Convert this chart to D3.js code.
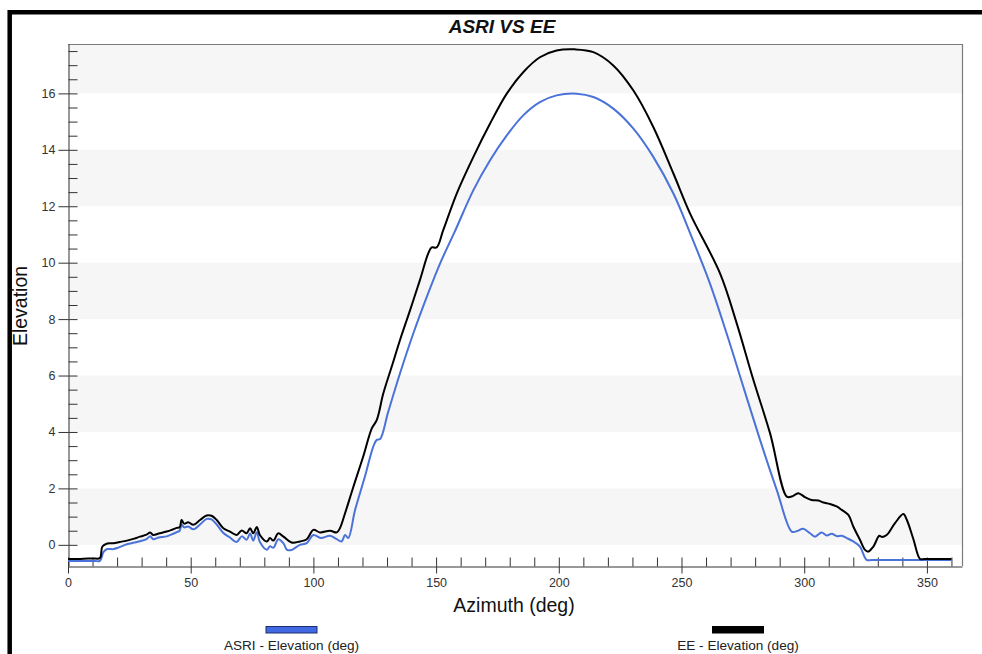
<!DOCTYPE html>
<html>
<head>
<meta charset="utf-8">
<script src="https://cdn.jsdelivr.net/npm/d3@7"></script>
<style>
  html, body { margin: 0; padding: 0; background: #fff; }
  svg { display: block; font-family: "Liberation Sans", Arial, sans-serif; }
</style>
</head>
<body>
<svg id="chart" width="982" height="654"></svg>
<script>
// ---------- DATA ----------
const title = "ASRI VS EE";
const xLabel = "Azimuth (deg)";
const yLabel = "Elevation";
const seriesNames = ["ASRI - Elevation (deg)", "EE - Elevation (deg)"];
const xMajorTicks = [0, 50, 100, 150, 200, 250, 300, 350];
const yMajorTicks = [0, 2, 4, 6, 8, 10, 12, 14, 16];
const xDomain = [0, 364.3];
const yDomain = [-0.75, 17.75];

const asriAzimuth = [0, 4, 8, 11, 13, 14.5, 16, 18.5, 21, 24, 27, 29.3, 32, 33.5, 34.7, 37, 40.2, 42, 44.3, 45.5, 46.3, 47.3, 49, 51.1, 53.8, 56.5, 58.5, 60.6, 63.3, 66, 68.7, 70.8, 72.8, 74.2, 75.5, 76.9, 78.2, 81, 82.3, 83.7, 85.7, 87.8, 89.3, 91.1, 94.5, 97.3, 100, 103, 106.8, 109.5, 111.5, 112.9, 114.2, 117, 121, 124.4, 125.8, 127.2, 130.5, 135.3, 140.7, 146.2, 151.6, 157.5, 165.2, 172, 178.8, 185.5, 192.3, 199.1, 207.3, 214.1, 222.2, 230.4, 238.5, 246.7, 253.5, 261.6, 268.4, 275.2, 282, 288.8, 294.9, 296.9, 299.6, 302.4, 304.4, 307.1, 309.2, 311.2, 313.2, 315.3, 317.3, 320, 322.7, 325.4, 327.5, 331, 335, 340, 345, 350, 355, 360];
const asriElevation = [-0.57, -0.57, -0.57, -0.57, -0.57, -0.25, -0.15, -0.15, -0.08, 0.02, 0.08, 0.13, 0.2, 0.3, 0.2, 0.26, 0.3, 0.36, 0.45, 0.5, 0.72, 0.62, 0.65, 0.55, 0.72, 0.92, 0.9, 0.72, 0.42, 0.26, 0.1, 0.3, 0.18, 0.4, 0.15, 0.45, 0.1, -0.17, -0.05, -0.1, 0.2, 0.05, -0.18, -0.18, 0.0, 0.06, 0.35, 0.24, 0.32, 0.2, 0.12, 0.35, 0.24, 1.24, 2.42, 3.48, 3.72, 3.75, 4.72, 6.08, 7.49, 8.79, 9.97, 11.08, 12.57, 13.63, 14.51, 15.22, 15.69, 15.93, 15.99, 15.87, 15.46, 14.75, 13.75, 12.45, 11.05, 9.26, 7.49, 5.6, 3.72, 1.95, 0.47, 0.48, 0.57, 0.41, 0.29, 0.44, 0.33, 0.39, 0.31, 0.32, 0.24, 0.12, -0.06, -0.53, -0.54, -0.54, -0.54, -0.54, -0.54, -0.54, -0.54, -0.54];

const eeAzimuth = [0, 5, 10, 13, 14, 16, 18.5, 21, 24, 27, 29.3, 32, 33.5, 34.7, 37, 40.2, 42, 44.3, 45.5, 46.3, 47.3, 49, 51.1, 53.8, 56.5, 58.5, 60.6, 63.3, 66, 68.7, 70.8, 72.8, 74.2, 75.5, 76.9, 78.2, 81, 82.3, 83.7, 85.7, 87.8, 91.1, 94.5, 97.3, 100, 102.7, 106.8, 109.5, 110.8, 112.9, 116.3, 120.3, 123.8, 125.8, 128.5, 131.9, 135.3, 139.4, 143.4, 146.8, 148.2, 150.2, 152.9, 158.4, 165.2, 172, 178.8, 185.5, 192.3, 199.1, 206.6, 214.1, 222.2, 230.4, 238.5, 246.7, 253.5, 265.7, 272.5, 279.3, 286.1, 292.9, 294.9, 297.6, 300.3, 303, 305.8, 307.8, 310.5, 313.2, 315.3, 318, 320, 322.7, 324.8, 326.1, 328.2, 330.6, 331.6, 333.6, 337, 340.4, 341.8, 344.5, 347.2, 349, 352, 356, 360];
const eeElevation = [-0.5, -0.5, -0.48, -0.47, -0.06, 0.05, 0.06, 0.1, 0.15, 0.22, 0.29, 0.36, 0.44, 0.35, 0.4, 0.47, 0.52, 0.6, 0.62, 0.88, 0.75, 0.8, 0.71, 0.88, 1.04, 1.03, 0.88, 0.59, 0.47, 0.35, 0.51, 0.41, 0.59, 0.41, 0.63, 0.35, 0.12, 0.24, 0.15, 0.41, 0.29, 0.08, 0.12, 0.2, 0.53, 0.44, 0.5, 0.44, 0.59, 1.12, 2.06, 3.13, 4.13, 4.42, 5.37, 6.31, 7.26, 8.32, 9.38, 10.33, 10.54, 10.54, 11.15, 12.45, 13.75, 14.93, 15.99, 16.75, 17.28, 17.52, 17.56, 17.46, 16.99, 16.1, 14.81, 13.16, 11.74, 9.62, 7.85, 5.84, 3.95, 1.71, 1.71, 1.83, 1.69, 1.59, 1.57, 1.5, 1.45, 1.36, 1.24, 1.06, 0.65, 0.18, -0.18, -0.24, -0.06, 0.32, 0.28, 0.35, 0.77, 1.09, 0.89, 0.2, -0.5, -0.5, -0.5, -0.5, -0.5];

// ---------- LAYOUT ----------
const svg = d3.select("#chart");
const plot = { left: 68, right: 962, top: 44, bottom: 566 };
const x = d3.scaleLinear().domain(xDomain).range([plot.left, plot.right]);
const y = d3.scaleLinear().domain(yDomain).range([plot.bottom, plot.top]);

svg.append("rect").attr("width", 982).attr("height", 654).attr("fill", "#fff");

// alternating bands
const bandStarts = [0, 4, 8, 12, 16];
svg.append("g").selectAll("rect").data(bandStarts).join("rect")
  .attr("x", plot.left)
  .attr("width", plot.right - plot.left)
  .attr("y", d => y(Math.min(d + 2, yDomain[1])))
  .attr("height", d => y(d) - y(Math.min(d + 2, yDomain[1])))
  .attr("fill", "#f6f6f6");

// frame top & right
svg.append("path")
  .attr("d", `M${plot.left},${plot.top + 0.5}H${plot.right + 0.5}V${plot.bottom}`)
  .attr("fill", "none").attr("stroke", "#7a7a7a").attr("stroke-width", 1.2);

// outer border (left + top)
svg.append("path")
  .attr("d", `M9.7,654V12.2H982`)
  .attr("fill", "none").attr("stroke", "#000").attr("stroke-width", 4.5);

// ---------- AXES ----------
function styleAxis(g) {
  g.selectAll("path").attr("stroke", "#333");
  g.selectAll("line").attr("stroke", "#333");
  g.selectAll("text").attr("fill", "#333").attr("font-size", 12.5)
    .attr("font-family", "'Liberation Sans', Arial, sans-serif");
}
// y minor (inside)
svg.append("g").attr("transform", `translate(${plot.left + 0.5},0)`)
  .call(d3.axisLeft(y).tickValues(d3.range(-0.5, 17.6, 0.5)).tickSize(-9).tickSizeOuter(0).tickFormat(""))
  .call(styleAxis);
// y major (crossing)
svg.append("g").attr("transform", `translate(${plot.left + 0.5},0)`)
  .call(d3.axisLeft(y).tickValues(yMajorTicks).tickSize(10).tickSizeOuter(0).tickPadding(3))
  .call(g => g.select(".domain").remove())
  .call(styleAxis);
// x minor (inside)
svg.append("g").attr("transform", `translate(0,${plot.bottom + 0.5})`)
  .call(d3.axisBottom(x).tickValues(d3.range(0, 361, 10)).tickSize(-9).tickSizeOuter(0).tickFormat(""))
  .call(styleAxis);
// x major (crossing)
svg.append("g").attr("transform", `translate(0,${plot.bottom + 0.5})`)
  .call(d3.axisBottom(x).tickValues(xMajorTicks).tickSize(7).tickSizeOuter(0).tickPadding(5))
  .call(g => g.select(".domain").remove())
  .call(styleAxis);

// ---------- LINES ----------
const line = d3.line().x(d => x(d[0])).y(d => y(d[1])).curve(d3.curveCatmullRom.alpha(0.5));
const asriData = asriAzimuth.map((a, i) => [a, asriElevation[i]]);
const eeData = eeAzimuth.map((a, i) => [a, eeElevation[i]]);
svg.append("path").datum(asriData).attr("d", line)
  .attr("fill", "none").attr("stroke", "#4a72d8").attr("stroke-width", 2).attr("stroke-linejoin", "round");
svg.append("path").datum(eeData).attr("d", line)
  .attr("fill", "none").attr("stroke", "#000").attr("stroke-width", 2).attr("stroke-linejoin", "round");

// ---------- TEXT ----------
svg.append("text").attr("x", 502).attr("y", 33).attr("text-anchor", "middle")
  .attr("font-size", 19).attr("font-weight", "bold").attr("font-style", "italic").attr("fill", "#111")
  .text(title);
svg.append("text").attr("x", 514).attr("y", 612).attr("text-anchor", "middle")
  .attr("font-size", 19.5).attr("fill", "#111").text(xLabel);
svg.append("text").attr("transform", "translate(27,306) rotate(-90)").attr("text-anchor", "middle")
  .attr("font-size", 19.5).attr("fill", "#111").text(yLabel);

// ---------- LEGEND ----------
const legendColors = ["#4169e1", "#000"];
const legendCenters = [291.5, 738];
seriesNames.forEach((name, i) => {
  svg.append("rect").attr("x", legendCenters[i] - 25.5).attr("y", 626.5).attr("width", 51).attr("height", 6.5)
    .attr("fill", legendColors[i]).attr("stroke", i === 0 ? "#1f2f6e" : "#000").attr("stroke-width", 1);
  svg.append("text").attr("x", legendCenters[i]).attr("y", 649.5).attr("text-anchor", "middle")
    .attr("font-size", 13.6).attr("fill", "#222").text(name);
});
</script>
</body>
</html>
